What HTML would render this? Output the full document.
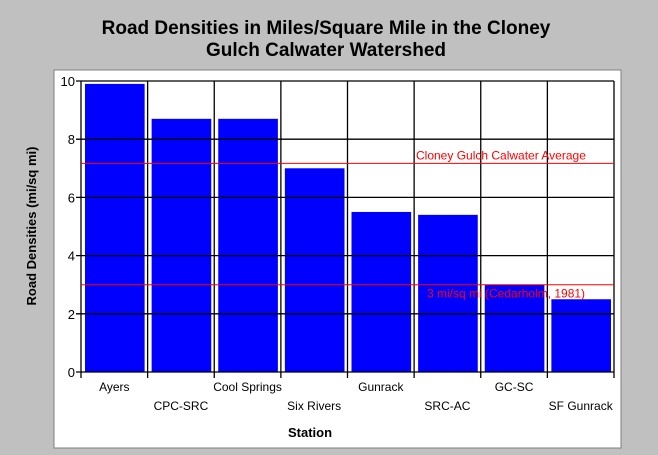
<!DOCTYPE html>
<html><head><meta charset="utf-8"><style>
body{margin:0;background:#c0c0c0;}
svg{display:block;font-family:"Liberation Sans",Arial,sans-serif;}
</style></head><body>
<svg width="658" height="455">
<rect x="0" y="0" width="658" height="455" fill="#c0c0c0"/>
<rect x="54" y="70" width="567" height="378" fill="#fff" stroke="#808080"/>
<text x="326" y="34" text-anchor="middle" font-size="19" font-weight="bold">Road Densities in Miles/Square Mile in the Cloney</text>
<text x="326" y="56" text-anchor="middle" font-size="19" font-weight="bold">Gulch Calwater Watershed</text>
<text x="310" y="437" text-anchor="middle" font-size="13" font-weight="bold">Station</text>
<text transform="translate(36,226) rotate(-90)" text-anchor="middle" font-size="13" font-weight="bold">Road Densities (mi/sq mi)</text>
<g id="plot"></g>
</svg>
<script>
const categories=["Ayers","CPC-SRC","Cool Springs","Six Rivers","Gunrack","SRC-AC","GC-SC","SF Gunrack"];
const values=[9.9,8.7,8.7,7.0,5.5,5.4,3.0,2.5];
const yTicks=[0,2,4,6,8,10];
const refValues=[7.17,3];
const refLabels=["Cloney Gulch Calwater Average","3 mi/sq mi (Cedarholm, 1981)"];
const L=81,R=614,T=81,B=372,yMax=10;
const y=v=>B-(v/yMax)*(B-T);
const cw=(R-L)/categories.length;
const x=i=>L+i*cw;
const g=document.getElementById('plot');
const NS="http://www.w3.org/2000/svg";
function mk(t,a){const e=document.createElementNS(NS,t);for(const k in a)e.setAttribute(k,a[k]);g.appendChild(e);return e;}
values.forEach((v,i)=>{
 const r=mk('rect',{x:x(i)+4,y:y(v),width:cw-7,height:B-y(v),fill:'#0000ff'});
 
 
});
yTicks.forEach(t=>{
 const l=mk('line',{x1:L-5,x2:R,y1:y(t),y2:y(t),stroke:'#000','stroke-width':1.3});
 
 
 const tx=mk('text',{x:L-6,y:y(t)+5,'text-anchor':'end','font-size':13});
 tx.textContent=t;
 
 
});
for(let i=0;i<=categories.length;i++){
 const l=mk('line',{x1:x(i),x2:x(i),y1:T,y2:B+6,stroke:'#000','stroke-width':1.3});
 
 
}
categories.forEach((c,i)=>{
 const tx=mk('text',{x:x(i)+cw/2,y:i%2?410:391,'text-anchor':'middle','font-size':12});
 tx.textContent=c;
 
 
});
refValues.forEach((v,i)=>{
 const l=mk('line',{x1:L,x2:R,y1:y(v),y2:y(v),stroke:'#ff0000','stroke-width':1});
 
 
 const tx=mk('text',{x:i?427:416,y:i?y(v)+13:y(v)-4,'font-size':12,fill:'#ff0000'});
 tx.textContent=refLabels[i];
 
 
});
</script>
</body></html>
